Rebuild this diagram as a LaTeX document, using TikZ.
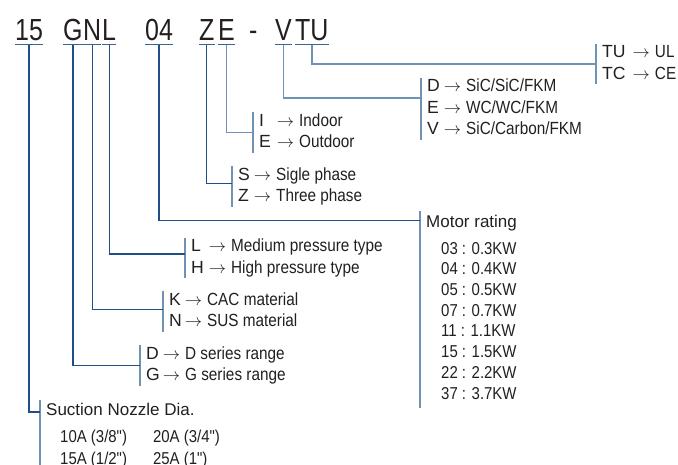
\documentclass[tikz,border=0pt]{standalone}
\usepackage{fontspec}
\usepackage{xcolor}
\setmainfont{Liberation Sans}
\newfontfamily\condfont{Liberation Sans}[FakeStretch=0.87]
\newfontfamily\titlefont{Liberation Sans}[FakeStretch=0.82]
\definecolor{ink}{HTML}{231F20}
\definecolor{lineDark}{HTML}{1F4F86}
\definecolor{lineLight}{HTML}{7092B5}
\definecolor{lineMid}{HTML}{3A6590}
\newcommand\code[2]{{\normalfont #1} & $\rightarrow$\hspace{5pt}#2}

\begin{document}
\begin{tikzpicture}[x=1pt,y=-1pt,
  main/.style={draw=lineDark, line width=1.3pt},
  brk/.style={draw=lineLight, line width=1.3pt},
  uline/.style={draw=lineMid, line width=1.5pt},
  ttl/.style={anchor=base west, inner sep=0pt, text=ink, font=\titlefont\fontsize{30.5}{30}\selectfont},
  desc/.style={anchor=west, inner sep=0pt, text=ink, font=\condfont\fontsize{17.6}{21.5}\selectfont},
  head/.style={anchor=west, inner sep=0pt, text=ink, font=\fontsize{17}{20}\selectfont}]
\useasboundingbox (0,0) rectangle (678,464);

% model code
\node[ttl](g15) at (15,40){15};
\node[ttl](gG) at (63,40){G};
\node[ttl](gN) at (83,40){N};
\node[ttl](gL) at (102,40){L};
\node[ttl](g04) at (145,40){04};
\node[ttl](gZ) at (199,40){Z};
\node[ttl](gE) at (218,40){E};
\node[ttl](gdash) at (249,40){-};
\node[ttl](gV) at (275,40){V};
\node[ttl](gTU) at (295,40){TU};
\foreach \n in {g15,gG,gN,gL,g04,gZ,gE,gV,gTU}
  \draw[uline] ([yshift=-4.5pt]\n.base west) -- ([yshift=-4.5pt]\n.base east);

% option lists
\node[desc](tTU) at (602,64){\begin{tabular}{@{}l@{\hspace{7pt}}l@{}}\code{TU}{UL}\\ \code{TC}{CE}\end{tabular}};
\node[desc](tV) at (427,109){\begin{tabular}{@{}l@{\hspace{4pt}}l@{}}\code{D}{SiC/SiC/FKM}\\ \code{E}{WC/WC/FKM}\\ \code{V}{SiC/Carbon/FKM}\end{tabular}};
\node[desc](tE) at (259,132.5){\begin{tabular}{@{}l@{\hspace{6pt}}l@{}}\code{I}{Indoor}\\ \code{E}{Outdoor}\end{tabular}};
\node[desc](tZ) at (238,186.5){\begin{tabular}{@{}l@{\hspace{4pt}}l@{}}\code{S}{Sigle phase}\\ \code{Z}{Three phase}\end{tabular}};
\node[desc](tL) at (191,258){\begin{tabular}{@{}l@{\hspace{5pt}}l@{}}\code{L}{Medium pressure type}\\ \code{H}{High pressure type}\end{tabular}};
\node[desc](tN) at (169,311.5){\begin{tabular}{@{}l@{\hspace{3pt}}l@{}}\code{K}{CAC material}\\ \code{N}{SUS material}\end{tabular}};
\node[desc](tG) at (146,365.5){\begin{tabular}{@{}l@{\hspace{3pt}}l@{}}\code{D}{D series range}\\ \code{G}{G series range}\end{tabular}};

% motor rating
\node[head](hM) at (426,223){Motor rating};
\node[desc, anchor=north west, font=\condfont\fontsize{17.2}{20.7}\selectfont](lM) at (441,239.5){\begin{tabular}{@{}l@{}}03 : 0.3KW\\ 04 : 0.4KW\\ 05 : 0.5KW\\ 07 : 0.7KW\\ 11 : 1.1KW\\ 15 : 1.5KW\\ 22 : 2.2KW\\ 37 : 3.7KW\end{tabular}};

% suction nozzle
\node[head](hS) at (46,409.5){Suction Nozzle Dia.};
\node[desc, anchor=north west, font=\condfont\fontsize{17.2}{22}\selectfont](lS) at (60,426.6){\begin{tabular}{@{}l@{\hspace{26pt}}l@{}}10A (3/8") & 20A (3/4")\\ 15A (1/2") & 25A (1")\end{tabular}};

% brackets
\foreach \n in {tTU,tV,tE,tZ,tL,tN,tG}
  \draw[brk] ([xshift=-6pt,yshift=-1.5pt]\n.north west) -- ([xshift=-6pt,yshift=1.5pt]\n.south west);
\draw[brk] ([xshift=-6pt,yshift=4pt]hM.north west) -- ([xshift=-6pt,yshift=-2pt]hM.west |- lM.south);
\draw[brk] ([xshift=-6pt,yshift=3pt]hS.north west) -- ([xshift=-6pt]hS.west |- lS.south);

% connectors
\draw[brk] ([yshift=-4.5pt]gTU.base) |- ([xshift=-6pt]tTU.west);
\draw[brk] ([yshift=-4.5pt]gV.base) |- ([xshift=-6pt,yshift=11pt]tV.west);
\draw[brk] ([yshift=-4.5pt]gE.base) |- ([xshift=-6pt]tE.west);
\draw[main] ([yshift=-4.5pt]gZ.base) |- ([xshift=-6pt,yshift=3pt]tZ.west);
\draw[main] ([yshift=-4.5pt]g04.base) |- ([xshift=-6pt,yshift=2.5pt]hM.west);
\draw[main] ([yshift=-4.5pt]gL.base) |- ([xshift=-6pt,yshift=4pt]tL.west);
\draw[main] ([yshift=-4.5pt]gN.base) |- ([xshift=-6pt,yshift=2pt]tN.west);
\draw[main] ([yshift=-4.5pt]gG.base) |- ([xshift=-6pt]tG.west);
\draw[main] ([yshift=-4.5pt]g15.base) |- ([xshift=-6pt,yshift=-2.5pt]hS.west);
\end{tikzpicture}
\end{document}
